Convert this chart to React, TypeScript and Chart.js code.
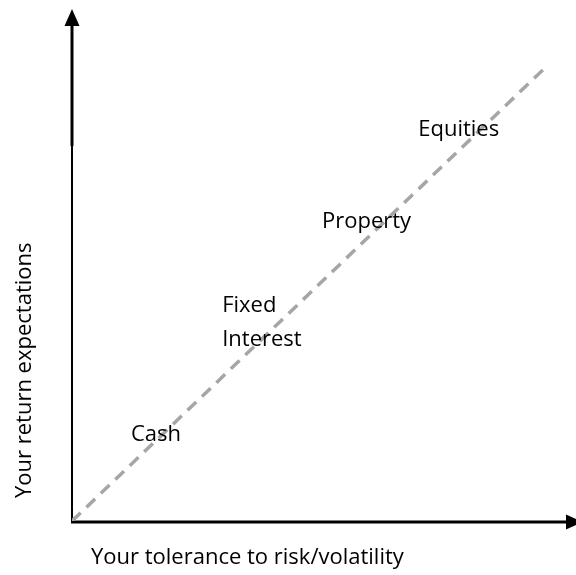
import React, { useEffect, useRef } from "react";
import { Chart, registerables } from "chart.js";

Chart.register(...registerables);

const trendX = [0, 94.4];
const trendY = [0, 89.2];

const labelTexts = ["Cash", "Fixed", "Interest", "Property", "Equities"];
const labelX = [11.7, 29.8, 29.8, 49.6, 68.7];
const labelY = [16.8, 42.1, 35.4, 58.5, 76.5];

const xTitle = "Your tolerance to risk/volatility";
const yTitle = "Your return expectations";

const FONT = "22px 'Open Sans', 'Noto Sans', sans-serif";

const decorPlugin = {
  id: "decor",
  beforeDatasetsDraw(chart: any) {
    const ctx = chart.ctx;
    const a = chart.chartArea;
    const x0 = a.left;
    const y0 = a.bottom + 1;
    ctx.save();
    ctx.strokeStyle = "#000";
    ctx.fillStyle = "#000";
    // y axis: thinner lower part, thicker upper part
    ctx.lineWidth = 2;
    ctx.beginPath();
    ctx.moveTo(x0, y0);
    ctx.lineTo(x0, a.top + 135);
    ctx.stroke();
    ctx.lineWidth = 3;
    ctx.beginPath();
    ctx.moveTo(x0, a.top + 136);
    ctx.lineTo(x0, a.top + 10);
    ctx.stroke();
    // x axis
    ctx.lineWidth = 3;
    ctx.beginPath();
    ctx.moveTo(x0 - 1, y0);
    ctx.lineTo(a.right - 8, y0);
    ctx.stroke();
    // y arrowhead
    ctx.beginPath();
    ctx.moveTo(x0, a.top - 1);
    ctx.lineTo(x0 - 7.5, a.top + 16);
    ctx.lineTo(x0 + 7.5, a.top + 16);
    ctx.closePath();
    ctx.fill();
    // x arrowhead
    ctx.beginPath();
    ctx.moveTo(a.right + 7, y0);
    ctx.lineTo(a.right - 10, y0 - 7.5);
    ctx.lineTo(a.right - 10, y0 + 7.5);
    ctx.closePath();
    ctx.fill();
    ctx.restore();
  },
  afterDatasetsDraw(chart: any) {
    const ctx = chart.ctx;
    const a = chart.chartArea;
    const xs = chart.scales.x;
    const ys = chart.scales.y;
    ctx.save();
    ctx.fillStyle = "#000";
    ctx.font = FONT;
    ctx.textBaseline = "middle";
    ctx.textAlign = "left";
    labelTexts.forEach((t, i) => {
      ctx.fillText(t, xs.getPixelForValue(labelX[i]), ys.getPixelForValue(labelY[i]));
    });
    // x title
    ctx.fillText(xTitle, a.left + 19, a.bottom + 37);
    // y title
    ctx.translate(25, a.bottom - 23);
    ctx.rotate(-Math.PI / 2);
    ctx.textAlign = "left";
    ctx.fillText(yTitle, 0, 0);
    ctx.restore();
  },
};

export default function App() {
  const ref = useRef<HTMLCanvasElement | null>(null);
  useEffect(() => {
    if (!ref.current) return;
    const chart = new Chart(ref.current, {
      type: "scatter",
      data: {
        datasets: [
          {
            data: trendX.map((x, i) => ({ x, y: trendY[i] })),
            showLine: true,
            borderColor: "#a6a6a6",
            borderWidth: 3.5,
            borderDash: [12, 8],
            pointRadius: 0,
          },
        ],
      },
      options: {
        animation: false,
        responsive: false,
        maintainAspectRatio: false,
        layout: { padding: { left: 72, top: 10, right: 0, bottom: 54 } },
        plugins: { legend: { display: false }, tooltip: { enabled: false } },
        scales: {
          x: { type: "linear", min: 0, max: 100, display: false },
          y: { type: "linear", min: 0, max: 100, display: false },
        },
      },
      plugins: [decorPlugin],
    });
    return () => chart.destroy();
  }, []);
  return (
    <div style={{ position: "absolute", left: 0, top: 0, width: 576, height: 575, background: "#fff" }}>
      <canvas ref={ref} width={576} height={575} style={{ width: 576, height: 575 }} />
    </div>
  );
}
